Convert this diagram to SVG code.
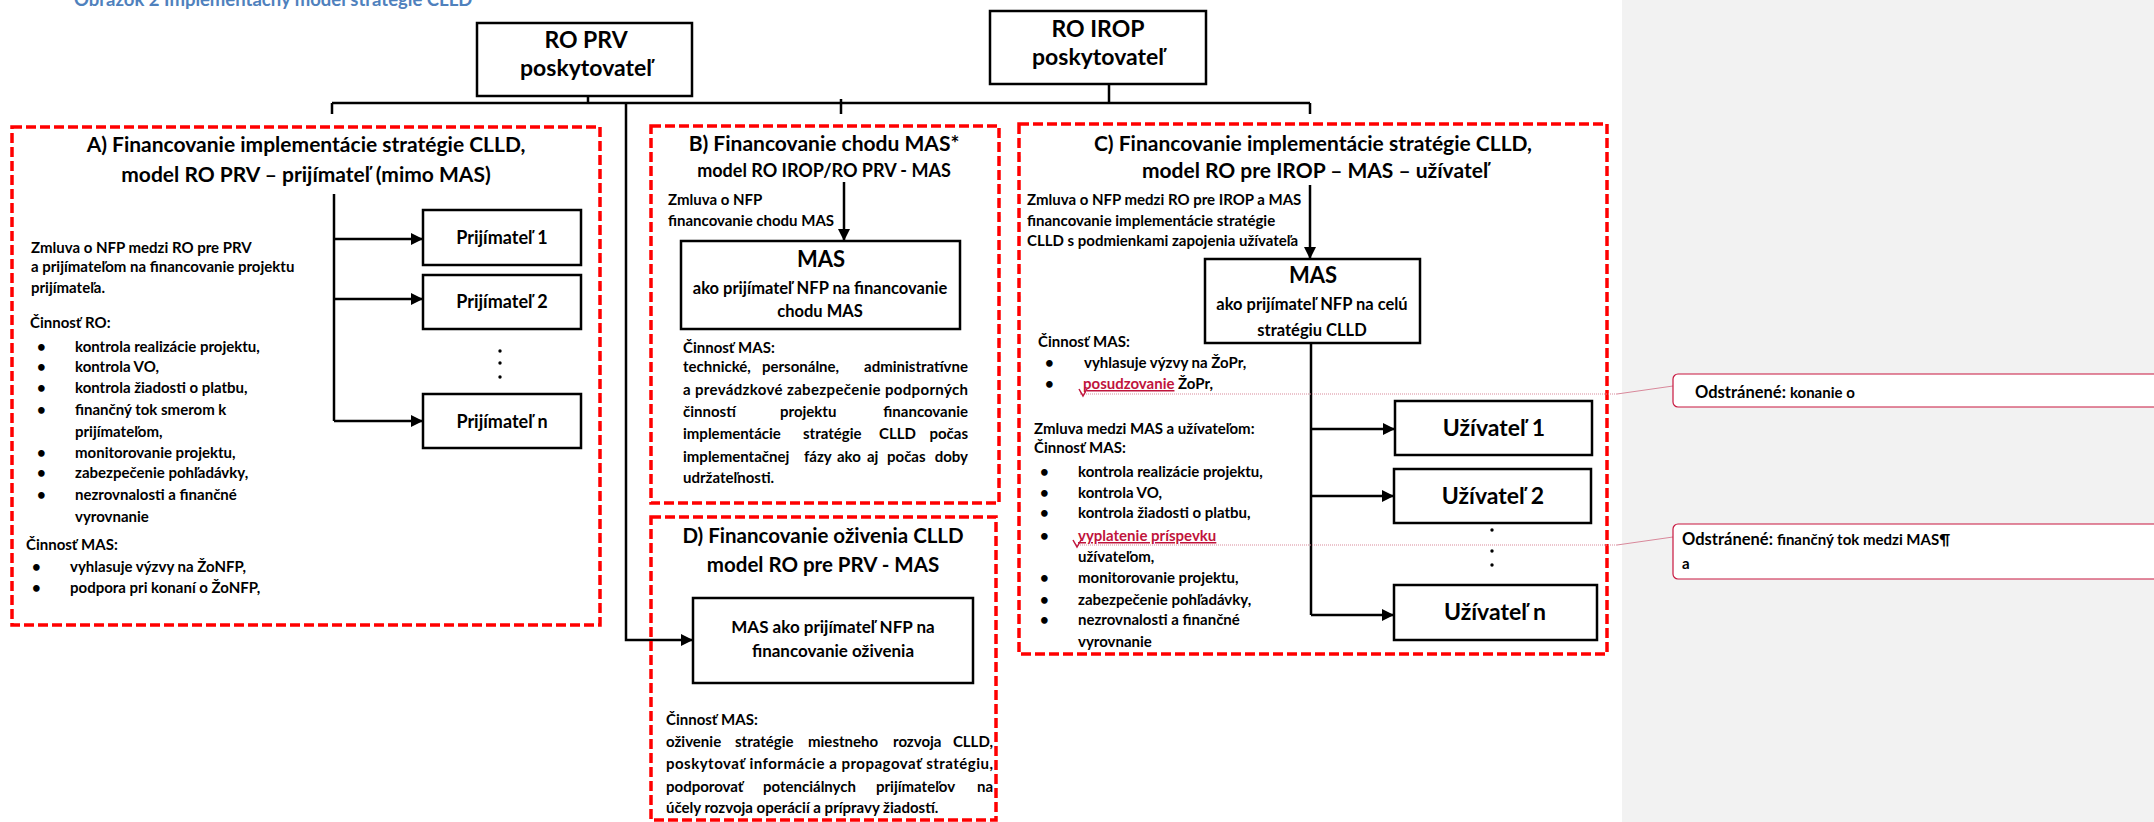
<svg xmlns="http://www.w3.org/2000/svg" width="2154" height="822" viewBox="0 0 2154 822">
<defs>
<style>
text{font-family:Lato,"Open Sans","Liberation Sans",sans-serif;font-weight:bold;fill:#000}
.c{text-anchor:middle}
.e{text-anchor:end}
.box{fill:#fff;stroke:#000;stroke-width:2.5}
.red{fill:none;stroke:#ff0000;stroke-width:3.5;stroke-dasharray:10 4}
.ln{fill:none;stroke:#000;stroke-width:2.5}
.b14{font-size:15px}
.h20{font-size:21px}
.h16{font-size:18px}
.n17{font-size:18px}
.u21{font-size:23px}
.ins{fill:#c0143c;text-decoration:underline}
.cm{fill:#fff;stroke:#c8173f;stroke-width:1.2}
.cl{fill:none;stroke:#d9899b;stroke-width:1}
</style>
<marker id="ah" markerUnits="userSpaceOnUse" markerWidth="12" markerHeight="12" refX="12" refY="6" orient="auto">
<path d="M0,0 L12,6 L0,12 z" fill="#000"/>
</marker>
</defs>
<rect x="0" y="0" width="2154" height="822" fill="#fff"/>
<rect x="1622" y="0" width="532" height="822" fill="#f2f2f2"/>
<text x="74" y="6" style="font-size:18.5px;fill:#4f81bd">Obrázok 2 Implementačný model stratégie CLLD</text>

<g id="connectors">
<path class="ln" d="M588,96 V103 M1109,84 V103 M332,103 H1310 M332,103 V114 M841,99 V114 M1310,103 V114"/>
<path class="ln" d="M626,103 V640 H693" marker-end="url(#ah)"/>
<path class="ln" d="M334,194 V421"/>
<path class="ln" d="M334,239 H423" marker-end="url(#ah)"/>
<path class="ln" d="M334,299 H423" marker-end="url(#ah)"/>
<path class="ln" d="M334,421 H423" marker-end="url(#ah)"/>
<path class="ln" d="M844,182 V241" marker-end="url(#ah)"/>
<path class="ln" d="M1310,185 V259" marker-end="url(#ah)"/>
<path class="ln" d="M1311,343 V615"/>
<path class="ln" d="M1311,429 H1395" marker-end="url(#ah)"/>
<path class="ln" d="M1311,496 H1394" marker-end="url(#ah)"/>
<path class="ln" d="M1311,615 H1394" marker-end="url(#ah)"/>
</g>

<g id="ro-prv">
<rect class="box" x="477" y="23" width="215" height="73"/>
<text class="c" x="586" y="48" style="font-size:23px">RO PRV</text>
<text class="c" x="586" y="76" style="font-size:23px">poskytovateľ</text>
</g>
<g id="ro-irop">
<rect class="box" x="990" y="11" width="216" height="73"/>
<text class="c" x="1098" y="37" style="font-size:23px">RO IROP</text>
<text class="c" x="1098" y="65" style="font-size:23px">poskytovateľ</text>
</g>

<g id="box-a">
<rect class="red" x="12" y="127" width="588" height="498"/>
<text class="c h20" x="306" y="152">A) Financovanie implementácie stratégie CLLD,</text>
<text class="c h20" x="306" y="182">model RO PRV – prijímateľ (mimo MAS)</text>
<text class="b14" x="31" y="253">Zmluva o NFP medzi RO pre PRV</text>
<text class="b14" x="31" y="272">a prijímateľom na financovanie projektu</text>
<text class="b14" x="31" y="293">prijímateľa.</text>
<text class="b14" x="30" y="328">Činnosť RO:</text>
<g class="b14">
<text x="37" y="352">•</text><text x="75" y="352">kontrola realizácie projektu,</text>
<text x="37" y="372">•</text><text x="75" y="372">kontrola VO,</text>
<text x="37" y="393">•</text><text x="75" y="393">kontrola žiadosti o platbu,</text>
<text x="37" y="415">•</text><text x="75" y="415">finančný tok smerom k</text>
<text x="75" y="437">prijímateľom,</text>
<text x="37" y="458">•</text><text x="75" y="458">monitorovanie projektu,</text>
<text x="37" y="478">•</text><text x="75" y="478">zabezpečenie pohľadávky,</text>
<text x="37" y="500">•</text><text x="75" y="500">nezrovnalosti a finančné</text>
<text x="75" y="522">vyrovnanie</text>
</g>
<text class="b14" x="26" y="550">Činnosť MAS:</text>
<g class="b14">
<text x="32" y="572">•</text><text x="70" y="572">vyhlasuje výzvy na ŽoNFP,</text>
<text x="32" y="593">•</text><text x="70" y="593">podpora pri konaní o ŽoNFP,</text>
</g>
</g>
<g id="prijimatel-1">
<rect class="box" x="423" y="210" width="158" height="55"/>
<text class="c n17" x="502" y="244">Prijímateľ 1</text>
</g>
<g id="prijimatel-2">
<rect class="box" x="423" y="275" width="158" height="54"/>
<text class="c n17" x="502" y="308">Prijímateľ 2</text>
</g>
<g id="prijimatel-dots">
<circle cx="500" cy="351" r="1.7"/><circle cx="500" cy="363" r="1.7"/><circle cx="500" cy="377" r="1.7"/>
</g>
<g id="prijimatel-n">
<rect class="box" x="423" y="394" width="158" height="54"/>
<text class="c n17" x="502" y="428">Prijímateľ n</text>
</g>

<g id="box-b">
<rect class="red" x="651" y="126" width="348" height="377"/>
<text class="c h20" x="824" y="151">B) Financovanie chodu MAS*</text>
<text class="c h16" x="824" y="177">model RO IROP/RO PRV - MAS</text>
<text class="b14" x="668" y="205">Zmluva o NFP</text>
<text class="b14" x="668" y="226">financovanie chodu MAS</text>
<text class="b14" x="683" y="353">Činnosť MAS:</text>
<g class="b14">
<text x="683" y="372">technické,</text><text x="762" y="372">personálne,</text><text class="e" x="968" y="372">administratívne</text>
<text x="683" y="395" textLength="285" lengthAdjust="spacing">a prevádzkové zabezpečenie podporných</text>
<text x="683" y="417">činností</text><text x="780" y="417">projektu</text><text class="e" x="968" y="417">financovanie</text>
<text x="683" y="439">implementácie</text><text x="803" y="439">stratégie</text><text x="879" y="439">CLLD</text><text class="e" x="968" y="439">počas</text>
<text x="683" y="462">implementačnej</text><text x="804" y="462">fázy</text><text x="837" y="462">ako</text><text x="867" y="462">aj</text><text x="887" y="462">počas</text><text class="e" x="968" y="462">doby</text>
<text x="683" y="483">udržateľnosti.</text>
</g>
</g>
<g id="mas-b">
<rect class="box" x="681" y="241" width="279" height="88"/>
<text class="c" x="821" y="267" style="font-size:22px">MAS</text>
<text class="c" x="820" y="294" style="font-size:16.5px">ako prijímateľ NFP na financovanie</text>
<text class="c" x="820" y="317" style="font-size:16.5px">chodu MAS</text>
</g>

<g id="box-d">
<rect class="red" x="651" y="517" width="345" height="303"/>
<text class="c" x="823" y="543" style="font-size:20.5px">D) Financovanie oživenia CLLD</text>
<text class="c" x="823" y="572" style="font-size:20.5px">model RO pre PRV - MAS</text>
<text class="b14" x="666" y="725">Činnosť MAS:</text>
<g class="b14">
<text x="666" y="747">oživenie</text><text x="735" y="747">stratégie</text><text x="808" y="747">miestneho</text><text x="893" y="747">rozvoja</text><text class="e" x="993" y="747">CLLD,</text>
<text x="666" y="769" textLength="327" lengthAdjust="spacing">poskytovať informácie a propagovať stratégiu,</text>
<text x="666" y="792">podporovať</text><text x="763" y="792">potenciálnych</text><text x="876" y="792">prijímateľov</text><text class="e" x="993" y="792">na</text>
<text x="666" y="813">účely rozvoja operácií a prípravy žiadostí.</text>
</g>
</g>
<g id="mas-d">
<rect class="box" x="693" y="598" width="280" height="85"/>
<text class="c" x="833" y="633" style="font-size:17px">MAS ako prijímateľ NFP na</text>
<text class="c" x="833" y="657" style="font-size:17px">financovanie oživenia</text>
</g>

<g id="box-c">
<rect class="red" x="1019" y="124" width="588" height="530"/>
<text class="c h20" x="1313" y="151">C) Financovanie implementácie stratégie CLLD,</text>
<text class="c h20" x="1315" y="178">model RO pre IROP – MAS – užívateľ</text>
<text class="b14" x="1027" y="205">Zmluva o NFP medzi RO pre IROP a MAS</text>
<text class="b14" x="1027" y="226">financovanie implementácie stratégie</text>
<text class="b14" x="1027" y="246">CLLD s podmienkami zapojenia užívateľa</text>
<text class="b14" x="1038" y="347">Činnosť MAS:</text>
<g class="b14">
<text x="1045" y="368">•</text><text x="1084" y="368">vyhlasuje výzvy na ŽoPr,</text>
<text x="1045" y="389">•</text><text x="1083" y="389"><tspan class="ins">posudzovanie</tspan> ŽoPr,</text>
</g>
<text class="b14" x="1034" y="434">Zmluva medzi MAS a užívateľom:</text>
<text class="b14" x="1034" y="453">Činnosť MAS:</text>
<g class="b14">
<text x="1040" y="477">•</text><text x="1078" y="477">kontrola realizácie projektu,</text>
<text x="1040" y="498">•</text><text x="1078" y="498">kontrola VO,</text>
<text x="1040" y="518">•</text><text x="1078" y="518">kontrola žiadosti o platbu,</text>
<text x="1040" y="541">•</text><text x="1078" y="541" class="ins">vyplatenie príspevku</text>
<text x="1078" y="562">užívateľom,</text>
<text x="1040" y="583">•</text><text x="1078" y="583">monitorovanie projektu,</text>
<text x="1040" y="605">•</text><text x="1078" y="605">zabezpečenie pohľadávky,</text>
<text x="1040" y="625">•</text><text x="1078" y="625">nezrovnalosti a finančné</text>
<text x="1078" y="647">vyrovnanie</text>
</g>
</g>
<g id="mas-c">
<rect class="box" x="1205" y="259" width="215" height="84"/>
<text class="c" x="1313" y="283" style="font-size:22px">MAS</text>
<text class="c" x="1312" y="310" style="font-size:16.5px">ako prijímateľ NFP na celú</text>
<text class="c" x="1312" y="336" style="font-size:16.5px">stratégiu CLLD</text>
</g>
<g id="uzivatel-1">
<rect class="box" x="1395" y="401" width="197" height="54"/>
<text class="c u21" x="1494" y="436">Užívateľ 1</text>
</g>
<g id="uzivatel-2">
<rect class="box" x="1394" y="469" width="197" height="54"/>
<text class="c u21" x="1493" y="504">Užívateľ 2</text>
</g>
<g id="uzivatel-dots">
<circle cx="1492" cy="530" r="1.7"/><circle cx="1492" cy="551" r="1.7"/><circle cx="1492" cy="565" r="1.7"/>
</g>
<g id="uzivatel-n">
<rect class="box" x="1394" y="585" width="203" height="55"/>
<text class="c u21" x="1495" y="620">Užívateľ n</text>
</g>

<g id="comments">
<path class="cl" d="M1080,394 H1617" stroke-dasharray="1 1"/>
<path class="cl" d="M1617,394 L1673,386"/>
<path class="cl" d="M1076,545 H1617" stroke-dasharray="1 1"/>
<path class="cl" d="M1617,545 L1673,537"/>
<path d="M1079,389 L1083,396 L1087,389" fill="none" stroke="#c0143c" stroke-width="1.5"/>
<path d="M1073,540 L1077,547 L1081,540" fill="none" stroke="#c0143c" stroke-width="1.5"/>
<rect class="cm" x="1673" y="374" width="520" height="33" rx="5"/>
<text x="1695" y="398" style="font-size:16.5px">Odstránené: <tspan style="font-size:15px">konanie o</tspan></text>
<rect class="cm" x="1673" y="524" width="520" height="55" rx="5"/>
<text x="1682" y="545" style="font-size:16.5px">Odstránené: <tspan style="font-size:15px">finančný tok medzi MAS¶</tspan></text>
<text x="1682" y="569" style="font-size:15px">a</text>
</g>
</svg>
